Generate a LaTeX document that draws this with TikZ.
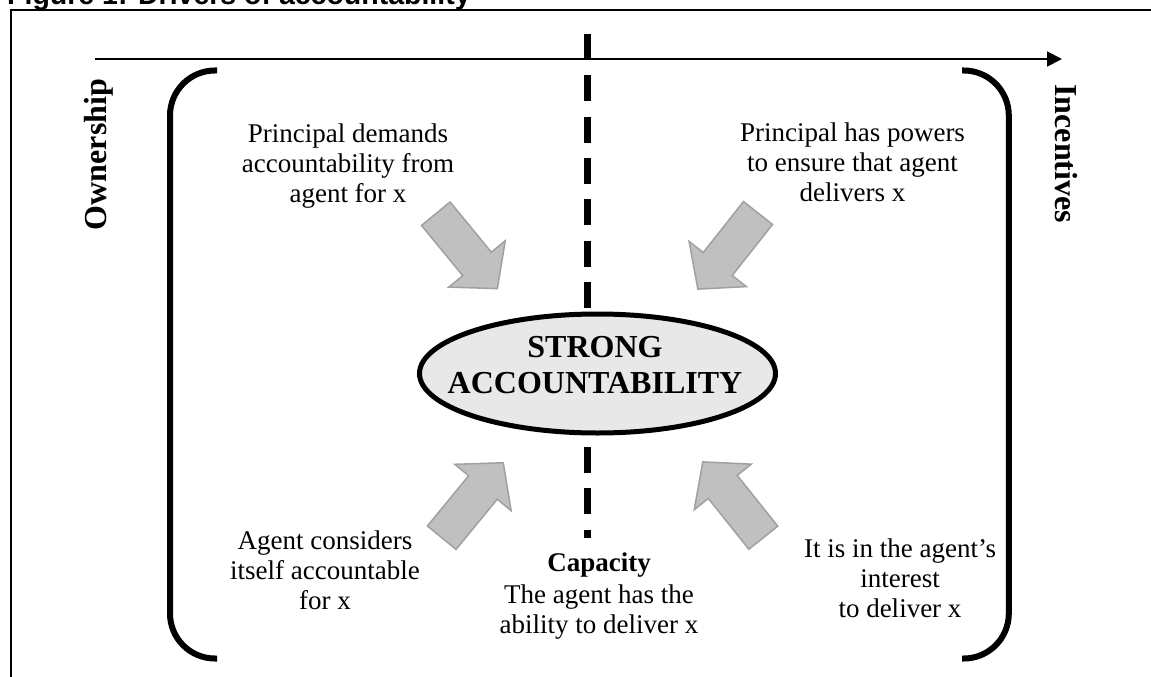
\documentclass[tikz,border=0pt]{standalone}
\usepackage{fontspec}
\setmainfont{Liberation Serif}
\newfontfamily\titlesans{Liberation Sans}
\usetikzlibrary{arrows.meta,shapes.geometric}
\definecolor{arrowfill}{HTML}{C0C0C0}
\definecolor{arrowline}{HTML}{A0A0A0}
\definecolor{corefill}{HTML}{E8E8E8}
\newcommand{\blockarr}[3]{%
  \begin{scope}[shift={(#1,#2)},rotate=#3]
    \draw[blockarrow] (0,-18.5) -- (65,-18.5) -- (65,-36.5) -- (97,0) -- (65,36.5) -- (65,18.5) -- (0,18.5) -- cycle;
  \end{scope}}
\begin{document}
\begin{tikzpicture}[x=1pt,y=-1pt,
  txt/.style={font=\fontsize{27}{30}\selectfont, align=center, inner sep=0pt, anchor=north},
  sidelabel/.style={font=\bfseries\fontsize{32}{36}\selectfont, inner sep=0pt, anchor=base},
  bracket/.style={line width=6pt, rounded corners=45pt},
  blockarrow/.style={fill=arrowfill, draw=arrowline, line width=1.5pt, line join=miter},
  core/.style={ellipse, draw, line width=5pt, fill=corefill, minimum width=356pt, minimum height=119pt, inner sep=0pt},
  coretext/.style={font=\bfseries\fontsize{32}{36}\selectfont, align=center, inner sep=0pt, anchor=north}]
\useasboundingbox (0,0) rectangle (1151,677);
% frame and title
\draw[line width=2pt] (10.5,690) -- (10.5,10.5) -- (1160,10.5);
\node[anchor=base west, inner sep=0pt, font=\titlesans\bfseries\fontsize{28.5}{32}\selectfont] (title) at (7,4.5) {Figure 1: Drivers of accountability};
% axis arrow
\coordinate (axisL) at (95,59);
\coordinate (axisR) at (1062,59);
\draw[line width=1.8pt, -{Triangle[length=15pt,width=15pt]}] (axisL) -- (axisR);
% dashed divider
\coordinate (divtop) at (587.3,34);
\coordinate (divbot) at (587.3,538);
\draw[line width=6.5pt, dash pattern=on 26pt off 15.3pt] (divtop) -- (divbot);
% brackets
\draw[bracket] (217,70.5) -- (170,70.5) -- (170,658.5) -- (217,658.5);
\draw[bracket] (962,70.5) -- (1008.8,70.5) -- (1008.8,658.5) -- (962,658.5);
% side labels
\node[sidelabel, rotate=90] (own) at (106,154.5) {Ownership};
\node[sidelabel, rotate=-90] (inc) at (1055,153.7) {Incentives};
% centre
\node[core] (core) at (597.5,373.5) {};
\node[coretext] (coretxt) at (595,333.3) {\rule{0pt}{24pt}STRONG\\ACCOUNTABILITY};
% block arrows
\blockarr{435.8}{213.7}{-50.6}
\blockarr{758}{213}{-128.3}
\blockarr{441.7}{537.7}{50.6}
\blockarr{763.3}{537.7}{128.6}
% texts
\node[txt] (tl) at (348,120.5) {\rule{0pt}{22pt}Principal demands\\accountability from\\agent for x};
\node[txt] (tr) at (852.5,119.7) {\rule{0pt}{22pt}Principal has powers\\to ensure that agent\\delivers x};
\node[txt] (bl) at (325,527.5) {\rule{0pt}{22pt}Agent considers\\itself accountable\\for x};
\node[txt] (cap) at (599,549) {\rule{0pt}{22pt}\textbf{Capacity}\\[2.5pt]The agent has the\\ability to deliver x};
\node[txt] (br) at (900,535) {\rule{0pt}{22pt}It is in the agent’s\\interest\\to deliver x};
\end{tikzpicture}
\end{document}
